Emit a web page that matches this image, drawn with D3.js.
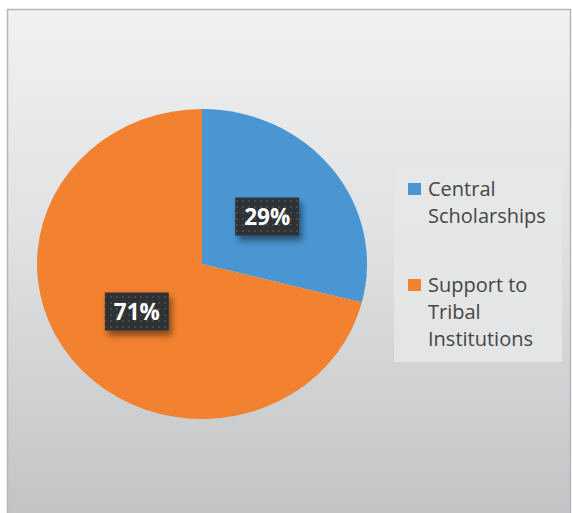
<!DOCTYPE html>
<html><head><meta charset="utf-8">
<script src="https://cdn.jsdelivr.net/npm/d3@7/dist/d3.min.js"></script>
<style>html,body{margin:0;padding:0;background:#fff;}svg{display:block;}</style>
</head><body>
<script>
const categories = ["Central Scholarships", "Support to Tribal Institutions"];
const values = [29, 71];
const labels = ["29%", "71%"];
const legendLines = [["Central", "Scholarships"], ["Support to", "Tribal", "Institutions"]];
const colors = ["#4a96d2", "#f28130"];

const W = 572, H = 513;
const svg = d3.select("body").append("svg").attr("width", W).attr("height", H);
const defs = svg.append("defs");

const bg = defs.append("linearGradient").attr("id", "bg").attr("x1", 0).attr("y1", 0).attr("x2", 0).attr("y2", 1);
bg.append("stop").attr("offset", "0%").attr("stop-color", "#f0f1f1");
bg.append("stop").attr("offset", "45%").attr("stop-color", "#dfe1e2");
bg.append("stop").attr("offset", "100%").attr("stop-color", "#c1c3c5");

const pat = defs.append("pattern").attr("id", "dots").attr("width", 6).attr("height", 6).attr("patternUnits", "userSpaceOnUse");
pat.append("rect").attr("width", 6).attr("height", 6).attr("fill", "#2f3336");
pat.append("rect").attr("x", 2).attr("y", 2).attr("width", 2).attr("height", 2).attr("fill", "#45494c");

const sh = defs.append("filter").attr("id", "shadow").attr("x", "-30%").attr("y", "-30%").attr("width", "160%").attr("height", "180%");
sh.append("feDropShadow").attr("dx", 3).attr("dy", 5).attr("stdDeviation", 3).attr("flood-color", "#000").attr("flood-opacity", 0.45);

// chart area
svg.append("rect").attr("x", 7.5).attr("y", 9.5).attr("width", 563).attr("height", 510)
  .attr("fill", "url(#bg)").attr("stroke", "#b4b6b8").attr("stroke-width", 1.5);

const cx = 202, cy = 264, R = 165, ry = 155;
const sy = ry / R;
const pie = d3.pie().sort(null).value(d => d)(values);
const arc = d3.arc().innerRadius(0).outerRadius(R);

const g = svg.append("g").attr("transform", `translate(${cx},${cy}) scale(1,${sy})`);
g.selectAll("path").data(pie).join("path").attr("d", arc).attr("fill", (d, i) => colors[i]);

// labels
const lab = svg.append("g");
pie.forEach((d, i) => {
  const c = arc.centroid(d);
  const x = cx + c[0], y = cy + c[1] * sy;
  const bw = 64, bh = 38;
  lab.append("rect").attr("x", x - bw / 2).attr("y", y - bh / 2).attr("width", bw).attr("height", bh)
    .attr("fill", "url(#dots)").attr("filter", "url(#shadow)");
  lab.append("text").attr("x", x).attr("y", y).attr("dy", "0.36em").attr("text-anchor", "middle")
    .attr("font-family", "'Open Sans', 'Noto Sans', sans-serif").attr("font-weight", "bold")
    .attr("font-size", 22.5).attr("fill", "#ffffff").text(labels[i]);
});

// legend
const lg = svg.append("g");
lg.append("rect").attr("x", 394).attr("y", 167).attr("width", 168).attr("height", 195).attr("fill", "#e6e7e8").attr("opacity", 0.85);
const entryY = [183, 279];
categories.forEach((c, i) => {
  lg.append("rect").attr("x", 408).attr("y", entryY[i]).attr("width", 13).attr("height", 12).attr("fill", colors[i]);
  const t = lg.append("text").attr("font-family", "'Open Sans', 'Noto Sans', sans-serif").attr("font-size", 20)
    .attr("fill", "#454545");
  legendLines[i].forEach((ln, j) => {
    t.append("tspan").attr("x", 428).attr("y", entryY[i] + 13 + j * 27).text(ln);
  });
});
</script>
</body></html>
